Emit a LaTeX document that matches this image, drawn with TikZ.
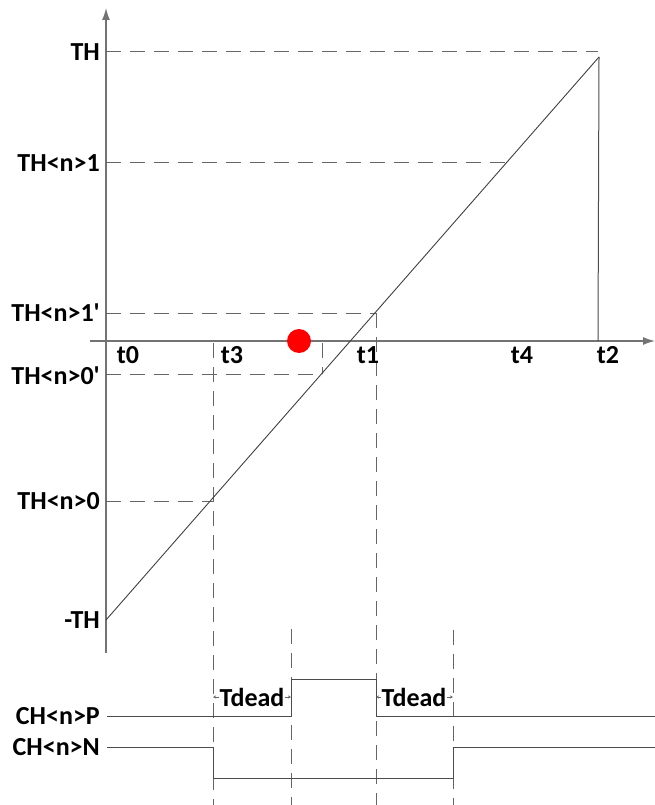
\documentclass[tikz,border=0pt]{standalone}
\usepackage{fontspec}
\setmainfont{Carlito}
\usetikzlibrary{arrows.meta}
\begin{document}
\begin{tikzpicture}[x=1pt,y=-1pt,
 lbl/.style={font=\bfseries\fontsize{26}{30}\selectfont, inner sep=0pt, text=black},
 axisline/.style={draw=black!55, line width=1.3pt},
 sig/.style={draw=black!70, line width=1pt},
 guide/.style={draw=black!60, line width=1pt, dash pattern=on 15pt off 9pt},
 ramp/.style={draw=black!75, line width=0.9pt},
 tiny/.style={draw=black!60, line width=0.6pt, -{Stealth[length=3pt,width=3pt]}}]
\useasboundingbox (0,0) rectangle (655,805);
% axes
\coordinate (ybot) at (106,653);
\coordinate (ytop) at (106,8);
\coordinate (xl) at (90,341);
\coordinate (xr) at (655,341);
\draw[axisline, -{Latex[length=12pt,width=8pt]}] (ybot) -- (ytop);
\draw[axisline, -{Latex[length=12pt,width=8pt]}] (xl) -- (xr);
% y levels on axis
\coordinate (aTH) at (106,52);
\coordinate (aTH1) at (106,163);
\coordinate (aTH1p) at (106,313);
\coordinate (aTH0p) at (106,374);
\coordinate (aTH0) at (106,501);
\coordinate (amTH) at (106,620);
% ramp points
\coordinate (rTop) at (599,57);
\coordinate (rTH) at (598,52);
\coordinate (rTH1) at (507,163);
\coordinate (rTH1p) at (376,313);
\coordinate (rTH0p) at (322,374);
\coordinate (rTH0) at (213,501);
% horizontal guides
\draw[guide] (aTH) -- (rTH);
\draw[guide] (aTH1) -- (rTH1);
\draw[guide] (aTH1p) -- (rTH1p);
\draw[guide] (aTH0p) -- (rTH0p);
\draw[guide] (aTH0) -- (rTH0);
% vertical guides
\coordinate (v3a) at (213,343);
\coordinate (v3b) at (213,805);
\coordinate (vda) at (322,343);
\coordinate (v1b) at (376,805);
\coordinate (vpa) at (291,629);
\coordinate (vpb) at (291,805);
\coordinate (vqa) at (453,630);
\coordinate (vqb) at (453,805);
\draw[guide] (v3a) -- (v3b);
\draw[guide] (vda) -- (rTH0p);
\draw[guide] (rTH1p) -- (v1b);
\draw[guide] (vpa) -- (vpb);
\draw[guide] (vqa) -- (vqb);
% ramp and t2 drop
\coordinate (t2b) at (598,341);
\draw[ramp] (amTH) -- (rTop);
\draw[sig] (rTop) -- (t2b);
% red dot
\fill[red] (299,341) circle (12);
% signals
\draw[sig] (107,716) -- (291,716) -- (291,679) -- (376,679) -- (376,716) -- (655,716);
\draw[sig] (107,747) -- (213,747) -- (213,778) -- (453,778) -- (453,747) -- (655,747);
% y labels
\node[lbl, anchor=east] (lTH) at (100,52) {TH};
\node[lbl, anchor=east] (lTH1) at (100,163) {TH<n>1};
\node[lbl, anchor=east] (lTH1p) at (100,313) {TH<n>1\textquotesingle};
\node[lbl, anchor=east] (lTH0p) at (100,376) {TH<n>0\textquotesingle};
\node[lbl, anchor=east] (lTH0) at (100,501) {TH<n>0};
\node[lbl, anchor=east] (lmTH) at (100,620) {-TH};
\node[lbl, anchor=east] (lP) at (100,716) {CH<n>P};
\node[lbl, anchor=east] (lN) at (100,747) {CH<n>N};
% time labels
\node[lbl] (t0) at (128,355) {t0};
\node[lbl] (t3) at (232,355) {t3};
\node[lbl] (t1) at (368,355) {t1};
\node[lbl] (t4) at (522,355) {t4};
\node[lbl] (t2) at (608,355) {t2};
% dead time
\node[lbl] (td1) at (252,697) {Tdead};
\node[lbl] (td2) at (414,697) {Tdead};
\coordinate (d1l) at (213,697);
\coordinate (d1r) at (291,697);
\coordinate (d2l) at (376,697);
\coordinate (d2r) at (453,697);
\draw[tiny] (td1.west) -- (d1l);
\draw[tiny] (td1.east) -- (d1r);
\draw[tiny] (td2.west) -- (d2l);
\draw[tiny] (td2.east) -- (d2r);
\end{tikzpicture}
\end{document}
